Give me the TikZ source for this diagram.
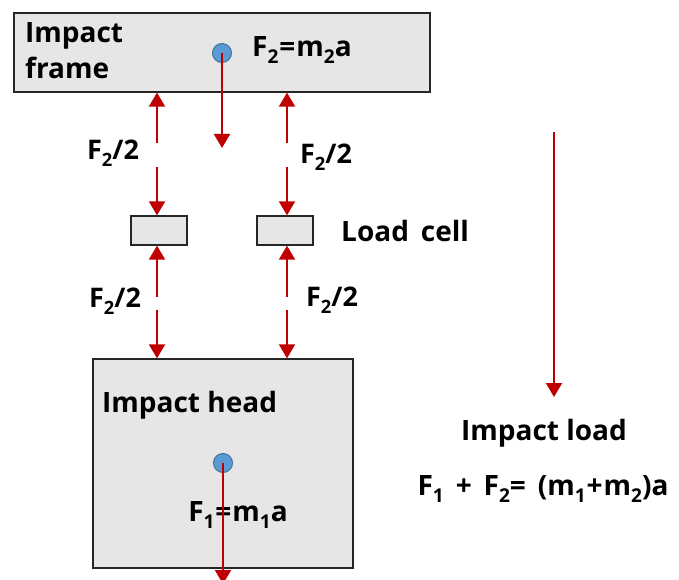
\documentclass[tikz,border=0pt]{standalone}
\usepackage{fontspec}
\setmainfont{Open Sans}
\usetikzlibrary{arrows.meta}
\definecolor{arred}{HTML}{C00000}
\definecolor{boxgray}{HTML}{E6E6E6}
\definecolor{dotblue}{HTML}{5B9BD5}
\definecolor{dotedge}{HTML}{41719C}
\newcommand{\sbs}[1]{\raisebox{-0.25em}{\scalebox{0.68}{#1}}}
\tikzset{
  body/.style={draw=black!85, line width=1.3pt, fill=boxgray, inner sep=0pt},
  lbl/.style={inner sep=0pt, font=\fontsize{28}{36}\selectfont\bfseries},
  flbl/.style={inner sep=0pt, font=\fontsize{27}{32}\selectfont\bfseries},
  arr/.style={draw=arred, line width=2pt, -{Triangle[width=16pt,length=14pt]}},
  cg/.style={circle, draw=dotedge, line width=1pt, fill=dotblue, minimum size=19pt, inner sep=0pt}
}
\begin{document}
\begin{tikzpicture}[x=1pt,y=-1pt]
\useasboundingbox (0,0) rectangle (679,580);
% bodies
\node[body, minimum width=416pt, minimum height=79pt] (frame) at (222,52.5) {};
\node[body, minimum width=56pt, minimum height=29pt] (lc1) at (159,230.5) {};
\node[body, minimum width=56pt, minimum height=29pt] (lc2) at (285,230.5) {};
\node[body, minimum width=260pt, minimum height=209pt] (head) at (223,463.5) {};
% texts
\node[lbl, anchor=north west, align=left] (tframe) at (25,22) {Impact\\frame};
\node[lbl, anchor=west] (tf2) at (252,50) {F\sbs{2}\kern1pt=\kern1pt m\sbs{2}a};
\node[lbl, anchor=west] (tlc) at (341,231) {Load\, cell};
\node[lbl, anchor=west] (thead) at (102,405) {Impact head};
\node[lbl] (tf1) at (238,515) {F\sbs{1}\kern1pt=\kern1pt m\sbs{1}a};
\node[lbl] (tload) at (544,433) {Impact load};
\node[lbl] (tsum) at (543,489) {F\sbs{1} \,+\, F\sbs{2}= \,(m\sbs{1}\kern1pt+\kern1pt m\sbs{2})a};
\node[flbl] (h1) at (113,153) {F\sbs{2}/2};
\node[flbl] (h2) at (326,157) {F\sbs{2}/2};
\node[flbl] (h3) at (115,301) {F\sbs{2}/2};
\node[flbl] (h4) at (332,300) {F\sbs{2}/2};
% dots
\node[cg] (d2) at (222,53) {};
\node[cg] (d1) at (223,463) {};
% arrow end points
\coordinate (u1) at (157,143);
\coordinate (u2) at (287,143);
\coordinate (v1) at (157,167);
\coordinate (v2) at (287,167);
\coordinate (w1) at (157,297);
\coordinate (w2) at (287,297);
\coordinate (z1) at (157,310);
\coordinate (z2) at (287,310);
\coordinate (e2) at (222,148);
\coordinate (e1) at (223,584);
\coordinate (ls) at (554,132);
\coordinate (le) at (554,397);
% arrows
\draw[arr] (u1) -- (u1 |- frame.south);
\draw[arr] (u2) -- (u2 |- frame.south);
\draw[arr] (v1) -- (v1 |- lc1.north);
\draw[arr] (v2) -- (v2 |- lc2.north);
\draw[arr] (w1) -- (w1 |- lc1.south);
\draw[arr] (w2) -- (w2 |- lc2.south);
\draw[arr] (z1) -- (z1 |- head.north);
\draw[arr] (z2) -- (z2 |- head.north);
\draw[arr] (d2.center) -- (e2);
\draw[arr] (d1.center) -- (e1);
\draw[arr] (ls) -- (le);
\end{tikzpicture}
\end{document}
